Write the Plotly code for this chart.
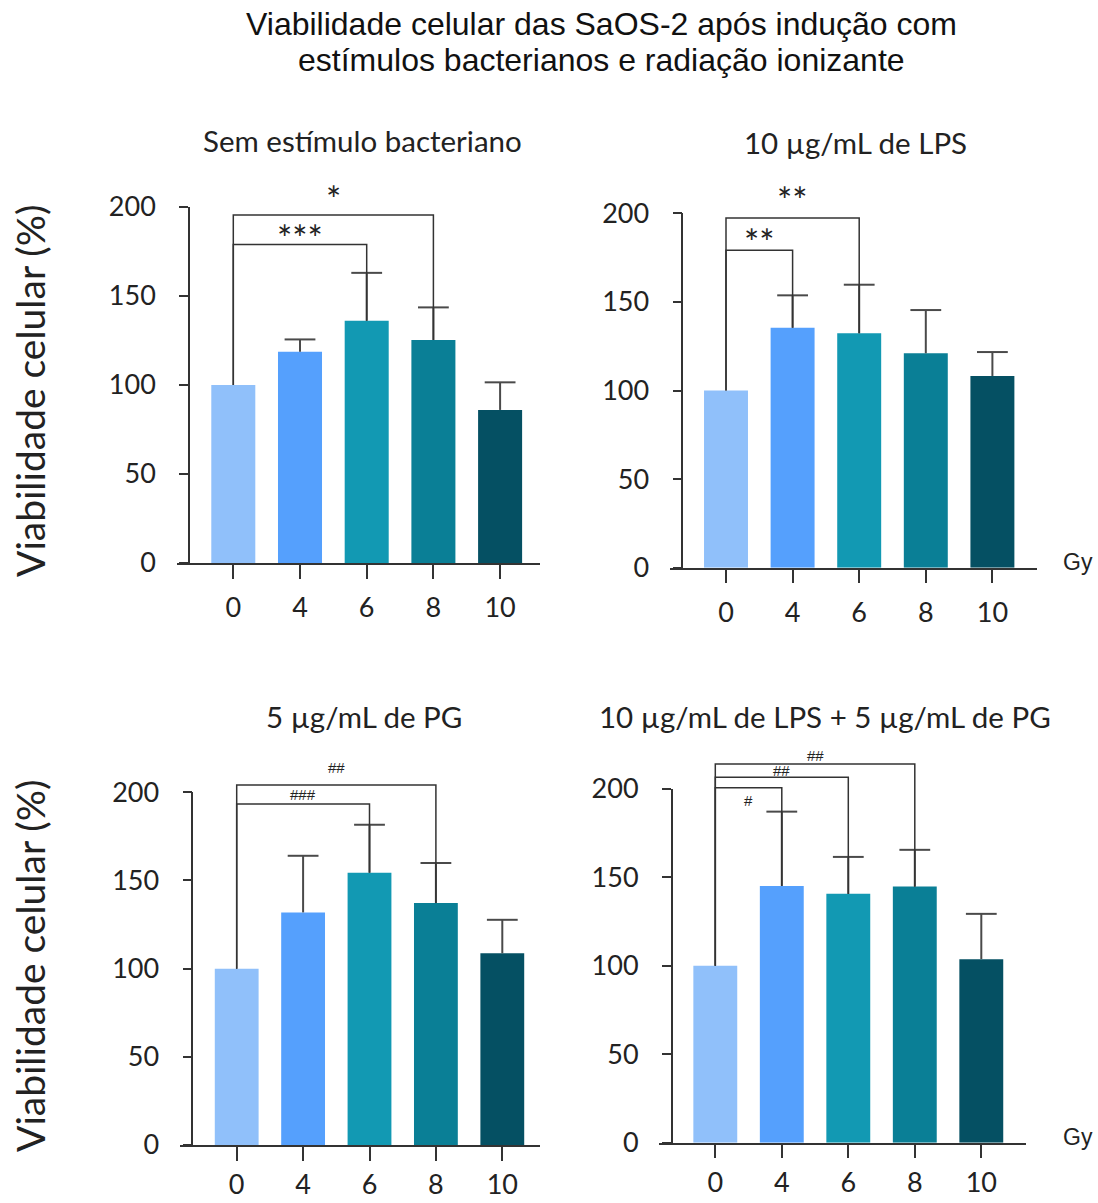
import plotly.graph_objects as go

# ---------------- data ----------------
doses = ["0", "4", "6", "8", "10"]
y_ticks = [0, 50, 100, 150, 200]
bar_colors = ["#90C0FA", "#55A0FD", "#1299B3", "#0A7F96", "#055063"]

main_title_1 = "Viabilidade celular das SaOS-2 após indução com"
main_title_2 = "estímulos bacterianos e radiação ionizante"
y_title = "Viabilidade celular (%)"
x_unit = "Gy"

title_sem = "Sem estímulo bacteriano"
title_lps = "10 µg/mL de LPS"
title_pg = "5 µg/mL de PG"
title_mix = "10 µg/mL de LPS + 5 µg/mL de PG"

means_sem = [100, 118.7, 136.1, 125.3, 86.0]
err_sem = [0, 6.9, 26.9, 18.3, 15.5]
means_lps = [100, 135.4, 132.3, 121.0, 108.2]
err_lps = [0, 18.3, 27.4, 24.4, 13.5]
means_pg = [100, 131.9, 154.4, 137.2, 108.7]
err_pg = [0, 32.1, 27.2, 22.7, 19.0]
means_mix = [100, 145.2, 140.7, 144.8, 103.8]
err_mix = [0, 42.0, 20.9, 20.8, 25.6]

# significance brackets: compared dose vs 0 Gy, bracket level, label
sig_targets_sem = ["6", "8"]
sig_levels_sem = [179.0, 195.5]
sig_labels_sem = ["***", "*"]
sig_targets_lps = ["4", "6"]
sig_levels_lps = [179.2, 197.3]
sig_labels_lps = ["**", "**"]
sig_targets_pg = ["6", "8"]
sig_levels_pg = [193.3, 204.1]
sig_labels_pg = ["###", "##"]
sig_targets_mix = ["4", "6", "8"]
sig_levels_mix = [200.7, 206.6, 214.1]
sig_labels_mix = ["#", "##", "##"]

# ---------------- layout geometry (px) ----------------
W, H = 1098, 1203
panels = [
    dict(title=title_sem, means=means_sem, err=err_sem, tg=sig_targets_sem, lv=sig_levels_sem, lb=sig_labels_sem,
         y0=563, y200=207, xl=177, xr=540, yax=189, c0=233.3, sp=66.7,
         tx=362.5, ty=140, shifts=[7, 17], gy=False, xstand=6),
    dict(title=title_lps, means=means_lps, err=err_lps, tg=sig_targets_lps, lv=sig_levels_lps, lb=sig_labels_lps,
         y0=567.7, y200=213.3, xl=670, xr=1037, yax=682.3, c0=726, sp=66.6,
         tx=855.5, ty=143, shifts=[9, 19], gy=True, xstand=6),
    dict(title=title_pg, means=means_pg, err=err_pg, tg=sig_targets_pg, lv=sig_levels_pg, lb=sig_labels_pg,
         y0=1145, y200=792.3, xl=180, xr=540, yax=192.3, c0=236.7, sp=66.4,
         tx=363.5, ty=716, shifts=[10, 18], gy=False, xstand=1),
    dict(title=title_mix, means=means_mix, err=err_mix, tg=sig_targets_mix, lv=sig_levels_mix, lb=sig_labels_mix,
         y0=1142.7, y200=789, xl=659, xr=1026, yax=671.7, c0=715.3, sp=66.5,
         tx=824.5, ty=716, shifts=[-13, 7, 9], gy=True, xstand=1),
]

AX_COLOR = "#333333"
ERR_COLOR = "#4a4a4a"
TXT_COLOR = "#222222"
CAL = "Lato"


def fx(p):
    return p / W


def fy(p):
    return 1 - p / H


fig = go.Figure()
annotations = []
layout = dict(width=W, height=H, margin=dict(l=0, r=0, t=0, b=0, autoexpand=False),
              paper_bgcolor="white", plot_bgcolor="rgba(0,0,0,0)", showlegend=False)

for i, p in enumerate(panels, start=1):
    xname = "x" if i == 1 else f"x{i}"
    yname = "y" if i == 1 else f"y{i}"
    bname = f"y{i + 4}"
    xkey = "xaxis" if i == 1 else f"xaxis{i}"
    ykey = "yaxis" if i == 1 else f"yaxis{i}"
    bkey = f"yaxis{i + 4}"

    s = (p["y0"] - p["y200"]) / 200.0
    x_start = -(p["c0"] - p["xl"]) / p["sp"]
    x_end = x_start + (p["xr"] - p["xl"]) / p["sp"]
    ytop = p["y0"] - 250 * s

    layout[xkey] = dict(domain=[fx(p["xl"]), fx(p["xr"])], anchor=yname, type="category",
                        categoryorder="array", categoryarray=doses, range=[x_start, x_end],
                        showline=True, linecolor=AX_COLOR, linewidth=1.5, ticks="outside",
                        ticklen=14, tickwidth=1.5, tickcolor=AX_COLOR, showgrid=False, zeroline=False,
                        tickfont=dict(family=CAL, size=27, color=TXT_COLOR), ticklabelstandoff=p["xstand"],
                        automargin=False, fixedrange=True)
    layout[ykey] = dict(domain=[fy(p["y0"]), fy(p["y200"])], anchor="free", position=fx(p["yax"]),
                        range=[0, 200], tickvals=y_ticks, showline=True, linecolor=AX_COLOR,
                        linewidth=1.5, ticks="outside", ticklen=9, tickwidth=1.5, tickcolor=AX_COLOR,
                        showgrid=False, zeroline=False,
                        tickfont=dict(family=CAL, size=27, color=TXT_COLOR), ticklabelstandoff=18,
                        automargin=False, fixedrange=True)
    layout[bkey] = dict(domain=[fy(p["y0"]), fy(ytop)], anchor=xname, range=[0, 250],
                        visible=False, automargin=False, fixedrange=True)

    fig.add_trace(go.Bar(x=doses, y=p["means"], marker=dict(color=bar_colors, line=dict(width=0)),
                         width=0.66, xaxis=xname, yaxis=yname, hoverinfo="skip"))

    # error bars (upper only)
    ex, ey, cx, cy = [], [], [], []
    for d, m, e in zip(doses, p["means"], p["err"]):
        if e > 0:
            ex += [d, d, None]
            ey += [m, m + e, None]
            cx.append(d)
            cy.append(m + e)
    fig.add_trace(go.Scatter(x=ex, y=ey, mode="lines", line=dict(color=ERR_COLOR, width=2),
                             xaxis=xname, yaxis=bname, hoverinfo="skip"))
    fig.add_trace(go.Scatter(x=cx, y=cy, mode="markers",
                             marker=dict(symbol="line-ew", size=22, line=dict(color=ERR_COLOR, width=2)),
                             xaxis=xname, yaxis=bname, hoverinfo="skip", cliponaxis=False))

    # significance brackets
    for t, lv, lb, sh in zip(p["tg"], p["lv"], p["lb"], p["shifts"]):
        ti = doses.index(t)
        fig.add_trace(go.Scatter(x=[doses[0], doses[0], t, t], y=[p["means"][0], lv, lv, p["means"][ti]],
                                 mode="lines", line=dict(color=AX_COLOR, width=1.5),
                                 xaxis=xname, yaxis=bname, hoverinfo="skip"))
        if "*" in lb:
            font = dict(family=CAL, size=36, color=TXT_COLOR)
            yshift = sh - 1
        else:
            font = dict(family="Liberation Sans", size=15, color=TXT_COLOR)
            yshift = sh
        annotations.append(dict(x=ti / 2.0, y=lv, xref=xname, yref=bname, text=lb, showarrow=False,
                                font=font, xanchor="center", yanchor="middle", yshift=yshift))

    # panel title
    annotations.append(dict(x=fx(p["tx"]), y=fy(p["ty"]), xref="paper", yref="paper", text=p["title"],
                            showarrow=False, font=dict(family=CAL, size=29.5, color=TXT_COLOR),
                            xanchor="center", yanchor="middle"))
    if p["gy"]:
        annotations.append(dict(x=fx(1078), y=fy(p["y0"] - 6), xref="paper", yref="paper", text=x_unit,
                                showarrow=False, font=dict(family="Liberation Sans", size=23, color=TXT_COLOR),
                                xanchor="center", yanchor="middle"))

# y-axis titles (one per row)
for yc in (391, 966):
    annotations.append(dict(x=fx(30), y=fy(yc), xref="paper", yref="paper", text=y_title, textangle=-90,
                            showarrow=False, font=dict(family=CAL, size=39, color=TXT_COLOR),
                            xanchor="center", yanchor="middle"))

# main title (two lines)
annotations.append(dict(x=fx(601), y=fy(24), xref="paper", yref="paper", text=main_title_1, showarrow=False,
                        font=dict(family="Liberation Sans", size=32, color="#111111"),
                        xanchor="center", yanchor="middle"))
annotations.append(dict(x=fx(601), y=fy(60), xref="paper", yref="paper", text=main_title_2, showarrow=False,
                        font=dict(family="Liberation Sans", size=32, color="#111111"),
                        xanchor="center", yanchor="middle"))

layout["annotations"] = annotations
fig.update_layout(**layout)
fig.write_html("out.html")
